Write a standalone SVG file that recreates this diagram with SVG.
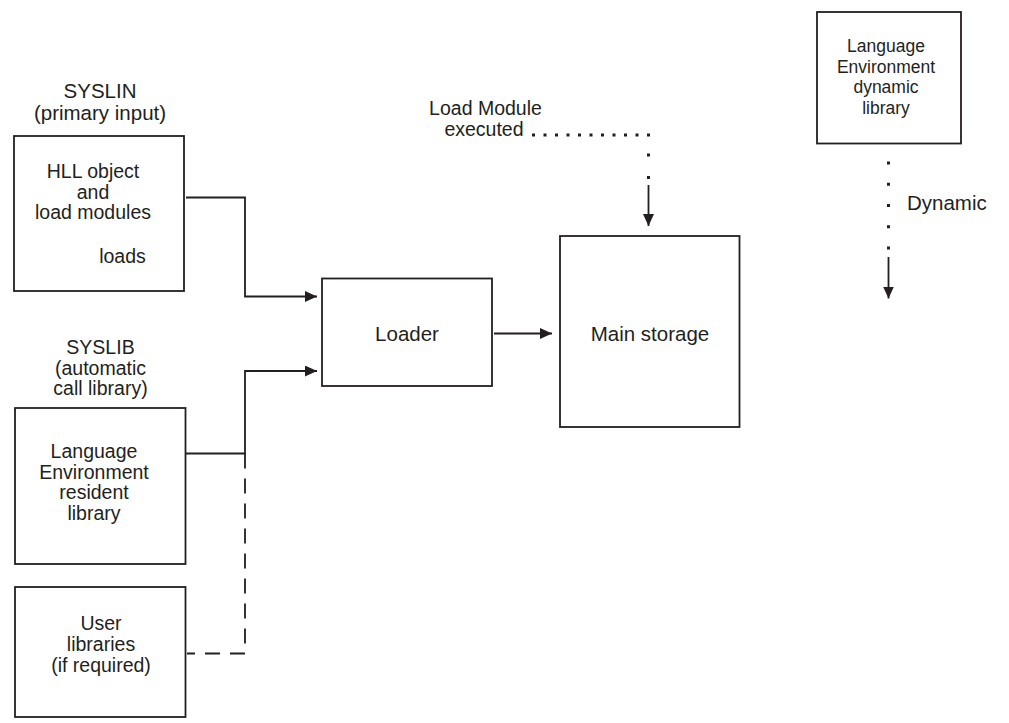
<svg xmlns="http://www.w3.org/2000/svg" width="1009" height="723" viewBox="0 0 1009 723">
<defs>
<marker id="ah" markerUnits="userSpaceOnUse" markerWidth="12" markerHeight="11" refX="12" refY="5.5" orient="auto">
<path d="M0,0 L12,5.5 L0,11 z" fill="#231f20"/>
</marker>
<style>
.box{fill:#fff;stroke:#231f20;stroke-width:1.8}
.t{font-family:"Liberation Sans",Arial,Helvetica,sans-serif;fill:#231f20;text-anchor:middle}
.lbl{font-size:20.5px}
.lb2{font-size:19.5px}
.bt{font-size:19.5px}
.sm{font-size:17.5px}
.ln{fill:none;stroke:#231f20;stroke-width:1.8}
.dot{fill:none;stroke:#231f20;stroke-width:3}
.dash{fill:none;stroke:#231f20;stroke-width:1.8;stroke-dasharray:15 10}
</style>
</defs>
<rect width="1009" height="723" fill="#fff"/>

<g id="syslin-label">
<text class="t lbl" x="100" y="98">SYSLIN</text>
<text class="t lbl" x="100" y="120">(primary input)</text>
</g>
<g id="syslin">
<rect class="box" x="14" y="136" width="170" height="155"/>
<text class="t bt" x="93" y="178">HLL object</text>
<text class="t bt" x="93" y="198.5">and</text>
<text class="t bt" x="93" y="219">load modules</text>
<text class="t bt" x="122.5" y="263">loads</text>
</g>

<g id="syslib-label">
<text class="t lb2" x="100.5" y="354">SYSLIB</text>
<text class="t lb2" x="100.5" y="374.5">(automatic</text>
<text class="t lb2" x="100.5" y="395">call library)</text>
</g>
<g id="le-resident">
<rect class="box" x="15" y="408" width="170.5" height="156"/>
<text class="t bt" x="94" y="458">Language</text>
<text class="t bt" x="94" y="478.5">Environment</text>
<text class="t bt" x="94" y="499">resident</text>
<text class="t bt" x="94" y="519.5">library</text>
</g>

<g id="user-libraries">
<rect class="box" x="15" y="587" width="170.5" height="130"/>
<text class="t bt" x="101" y="630">User</text>
<text class="t bt" x="101" y="651">libraries</text>
<text class="t bt" x="101" y="671.5">(if required)</text>
</g>

<g id="loader">
<rect class="box" x="322" y="278.5" width="170" height="107.5"/>
<text class="t lbl" x="407" y="341">Loader</text>
</g>

<g id="main-storage">
<rect class="box" x="560" y="236" width="179.5" height="191"/>
<text class="t lbl" x="650" y="341">Main storage</text>
</g>

<g id="load-module-label">
<text class="t lb2" x="485.5" y="115">Load Module</text>
<text class="t lb2" x="484" y="135.5">executed</text>
</g>

<g id="le-dynamic">
<rect class="box" x="817" y="12" width="144" height="131.5"/>
<text class="t sm" x="886" y="51.5">Language</text>
<text class="t sm" x="886" y="72.5">Environment</text>
<text class="t sm" x="886" y="93">dynamic</text>
<text class="t sm" x="886" y="113.5">library</text>
</g>

<g id="dynamic-label">
<text class="t lbl" x="907" y="210" style="text-anchor:start">Dynamic</text>
</g>

<g id="connectors">
<path class="ln" d="M186,197.5 H245 V296.5 H317" marker-end="url(#ah)"/>
<path class="ln" d="M186,453.5 H245 V371 H317" marker-end="url(#ah)"/>
<path class="dash" d="M245,453.5 V653.5 H187"/>
<path class="ln" d="M494,333.5 H552" marker-end="url(#ah)"/>
<path class="dot" d="M532,135 H652" style="stroke-dasharray:3 8.5"/>
<path class="dot" d="M648.5,153.5 V180" style="stroke-dasharray:3 19.5"/>
<path class="ln" d="M648.5,185 V226" marker-end="url(#ah)"/>
<path class="dot" d="M888.5,161.5 V251" style="stroke-dasharray:3 18.25"/>
<path class="ln" d="M888.5,257 V298.5" marker-end="url(#ah)"/>
</g>
</svg>
